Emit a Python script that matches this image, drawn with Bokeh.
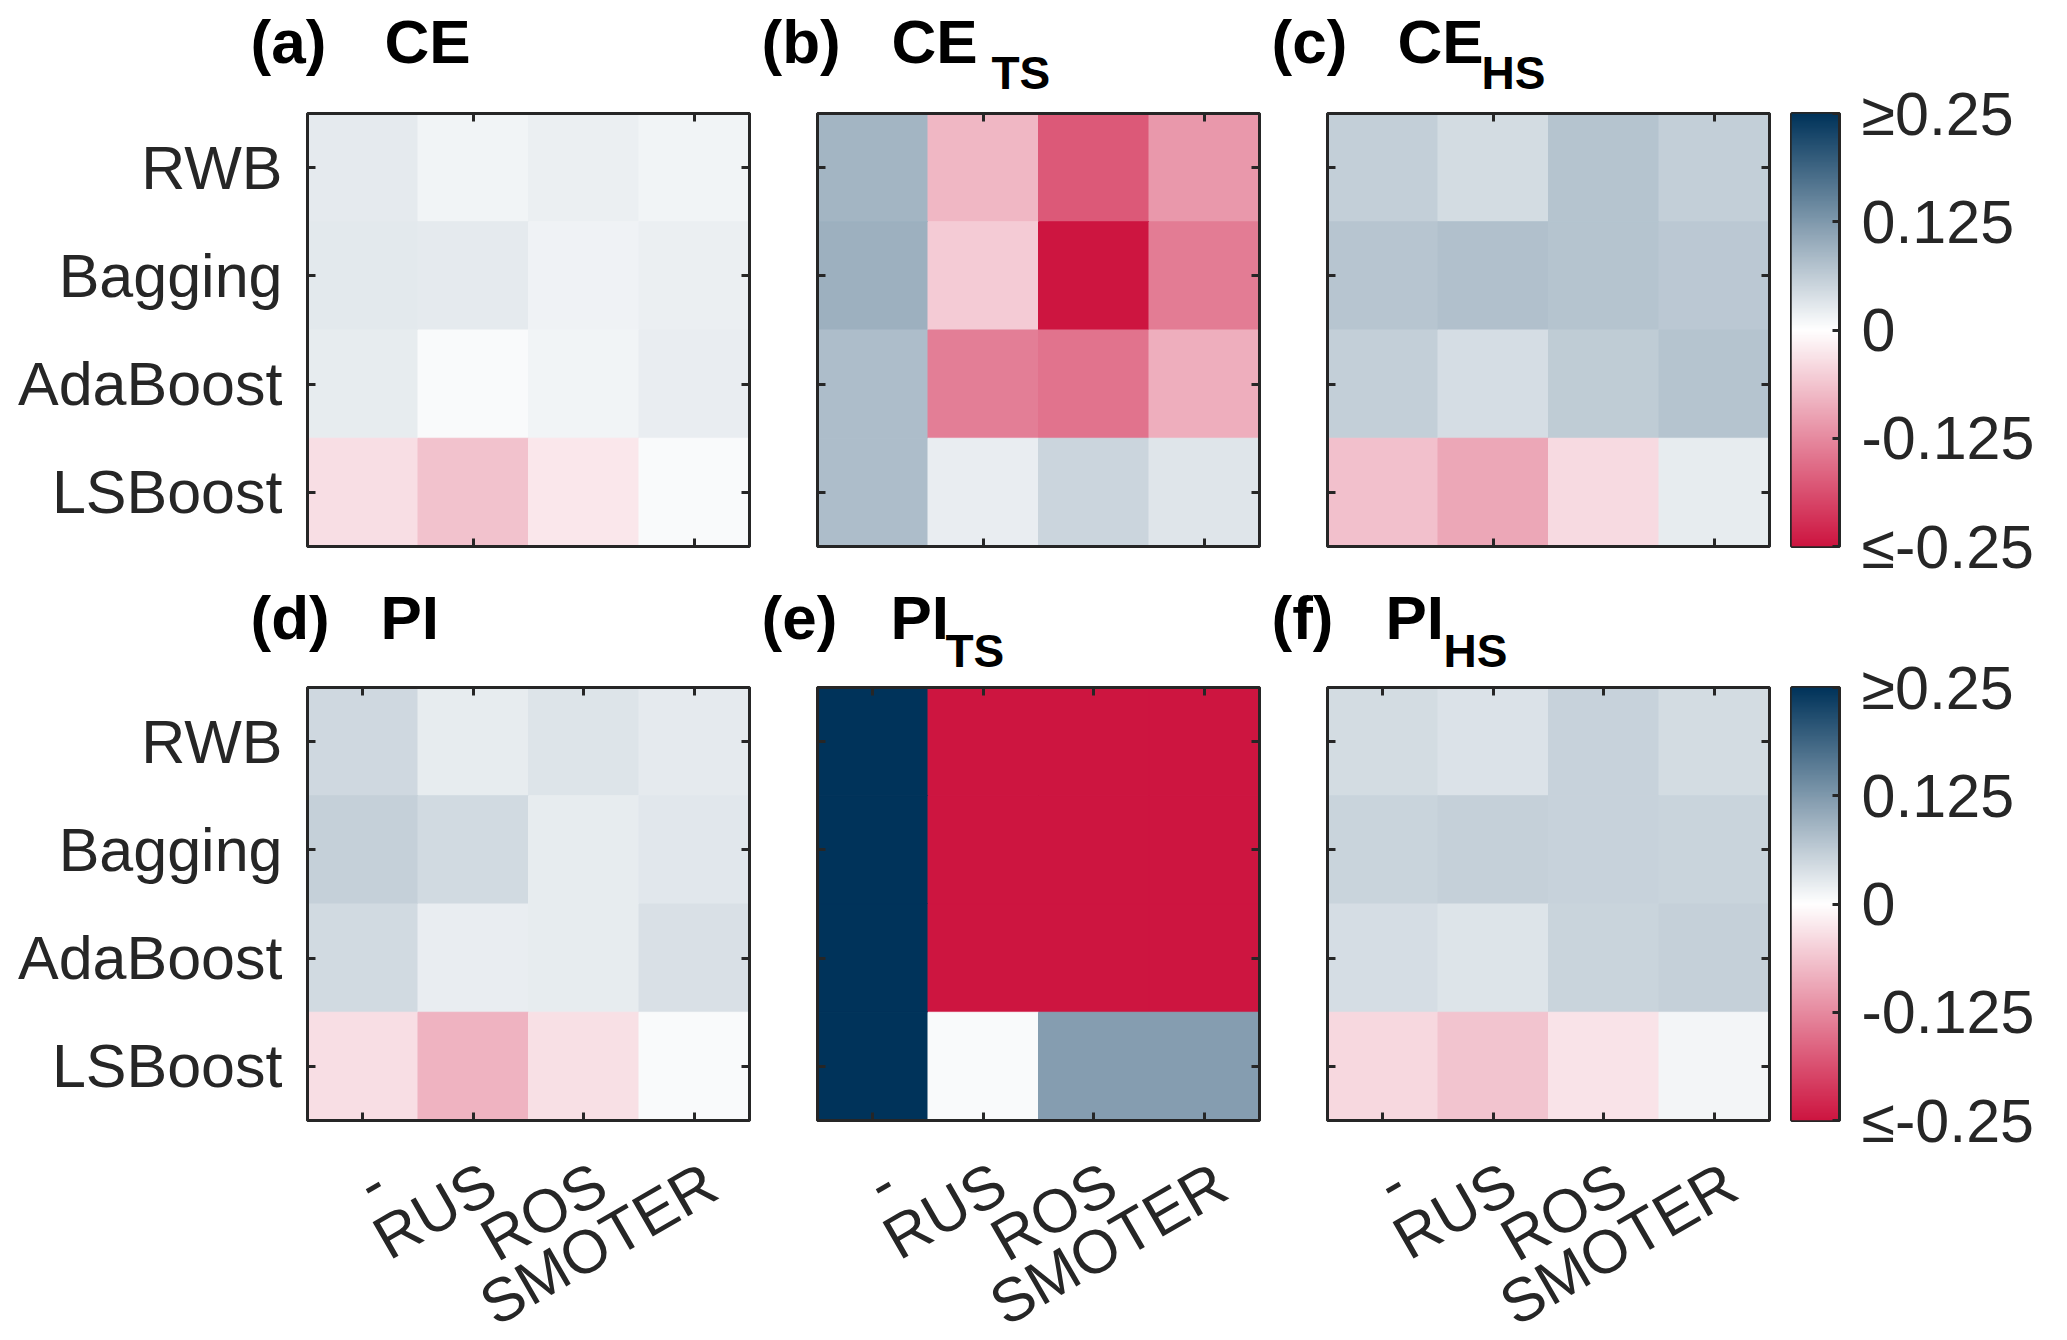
import numpy as np
from bokeh.plotting import figure
from bokeh.models import (LinearAxis, FixedTicker, CustomJSTickFormatter, Range1d,
                          LinearColorMapper, ColumnDataSource)
from bokeh.core.properties import value
from bokeh.layouts import row, column
from bokeh.embed import file_html
from bokeh.resources import INLINE

# ---------------- data ----------------
methods = ["-", "RUS", "ROS", "SMOTER"]
models = ["RWB", "Bagging", "AdaBoost", "LSBoost"]
cbar_ticks = [-0.25, -0.125, 0.0, 0.125, 0.25]
cbar_labels = ["≤-0.25", "-0.125", "0", "0.125", "≥0.25"]

panel_tags = ["(a)", "(b)", "(c)", "(d)", "(e)", "(f)"]
panel_names = ["CE", "CE", "CE", "PI", "PI", "PI"]
panel_subs = ["", "TS", "HS", "", "TS", "HS"]

# rows: RWB, Bagging, AdaBoost, LSBoost ; cols: -, RUS, ROS, SMOTER
ce = [[0.026, 0.013, 0.020, 0.014],
      [0.027, 0.026, 0.016, 0.020],
      [0.023, 0.006, 0.014, 0.022],
      [-0.036, -0.065, -0.025, 0.005]]
ce_ts = [[0.091, -0.076, -0.176, -0.110],
         [0.096, -0.055, -0.270, -0.140],
         [0.080, -0.137, -0.150, -0.087],
         [0.080, 0.022, 0.050, 0.031]]
ce_hs = [[0.058, 0.043, 0.073, 0.058],
         [0.070, 0.076, 0.072, 0.067],
         [0.058, 0.042, 0.062, 0.073],
         [-0.066, -0.094, -0.040, 0.024]]
pi = [[0.047, 0.023, 0.033, 0.025],
      [0.057, 0.045, 0.024, 0.029],
      [0.046, 0.022, 0.024, 0.038],
      [-0.036, -0.080, -0.033, 0.005]]
pi_ts = [[0.400, -0.400, -0.400, -0.400],
         [0.400, -0.400, -0.400, -0.400],
         [0.400, -0.400, -0.400, -0.400],
         [0.400, 0.006, 0.120, 0.120]]
pi_hs = [[0.043, 0.036, 0.054, 0.043],
         [0.052, 0.057, 0.054, 0.053],
         [0.042, 0.034, 0.052, 0.056],
         [-0.042, -0.063, -0.029, 0.012]]
panel_values = [ce, ce_ts, ce_hs, pi, pi_ts, pi_hs]

# ---------------- style ----------------
FONT = "Liberation Sans"
INK = "#262626"
LBL = "61px"
TITLE_SIZE = "62px"
SUB_SIZE = "46px"
FW, FH = 442, 433

lo_rgb = (205, 21, 64)
hi_rgb = (0, 51, 90)
white = (255, 255, 255)


def _mix(a, b, t):
    return "#%02x%02x%02x" % tuple(int(round(a[i] + (b[i] - a[i]) * t)) for i in range(3))


half = 127
palette = ([_mix(lo_rgb, white, i / half) for i in range(half)] + ["#ffffff"] +
           [_mix(white, hi_rgb, (i + 1) / half) for i in range(half)])
mapper = LinearColorMapper(palette=palette, low=-0.25, high=0.25,
                           low_color=palette[0], high_color=palette[-1])

tag_dx = [-57, -56, -56, -57, -56, -56]
name_dx = [77, 74, 70, 73, 73, 58]
sub_dx = [None, 174, 154, None, 128, 116]
LABEL_SHIFT = 0.155


def make_axis(ticks, labels=None, show_line=True, show_ticks=True, standoff=0, orient=None):
    ax = LinearAxis(ticker=FixedTicker(ticks=ticks, minor_ticks=[]))
    ax.axis_line_color = INK if show_line else None
    ax.axis_line_width = 3
    ax.major_tick_in = 8 if show_ticks else 0
    ax.major_tick_out = 0
    ax.major_tick_line_color = INK if show_ticks else None
    ax.major_tick_line_width = 3
    ax.minor_tick_line_color = None
    if labels is None:
        ax.formatter = CustomJSTickFormatter(code="return '';")
        ax.major_label_text_font_size = "1px"
        ax.major_label_standoff = 0
    else:
        ax.formatter = CustomJSTickFormatter(
            args=dict(labels=labels),
            code="return labels[Math.floor(tick + 0.001) - 1];")
        ax.major_label_text_font = FONT
        ax.major_label_text_font_size = LBL
        ax.major_label_text_color = INK
        ax.major_label_standoff = standoff
        if orient is not None:
            ax.major_label_orientation = orient
    return ax


def add_title_text(p, dx, dy, txt, size):
    # anchored at the frame's top-left corner, offset in pixels
    p.text(x=[0.5], y=[0.5], text=[txt], x_offset=dx, y_offset=-dy,
           text_font=value(FONT), text_font_style="bold", text_font_size=size,
           text_color="black", text_align="left", text_baseline="alphabetic",
           level="overlay")


def make_panel(k, top_row, first_col, bl, br, bt, bb):
    vals = panel_values[k]
    p = figure(frame_width=FW, frame_height=FH,
               x_range=Range1d(0.5, 4.5), y_range=Range1d(4.5, 0.5),
               x_axis_location=None, y_axis_location=None,
               toolbar_location=None, output_backend="svg",
               min_border_left=bl, min_border_right=br,
               min_border_top=bt, min_border_bottom=bb,
               outline_line_color=INK, outline_line_width=3,
               background_fill_color="white", border_fill_color="white")
    p.grid.visible = False
    xs, ys, vs = [], [], []
    for r in range(len(models)):
        for c in range(len(methods)):
            xs.append(c + 1)
            ys.append(r + 1)
            vs.append(vals[r][c])
    src = ColumnDataSource(dict(x=xs, y=ys, v=vs))
    cmap = {"field": "v", "transform": mapper}
    p.rect(x="x", y="y", width=1, height=1, source=src,
           fill_color=cmap, line_color=cmap, line_width=1)

    yt = [1, 2, 3, 4]
    p.add_layout(make_axis(yt, models if first_col else None, standoff=25), "left")
    p.add_layout(make_axis(yt), "right")
    if top_row:
        xt = [2, 4]
        p.add_layout(make_axis(xt), "above")
        p.add_layout(make_axis(xt), "below")
    else:
        xt = [1, 2, 3, 4]
        p.add_layout(make_axis(xt), "above")
        p.add_layout(make_axis(xt), "below")
        lab = make_axis([t + LABEL_SHIFT for t in xt], methods, show_line=False,
                        show_ticks=False, standoff=58, orient=np.pi / 6)
        p.add_layout(lab, "below")

    main_dy = 72 if top_row else 70
    sub_dy = 41 if top_row else 37
    add_title_text(p, tag_dx[k], main_dy, panel_tags[k], TITLE_SIZE)
    add_title_text(p, name_dx[k], main_dy, panel_names[k], TITLE_SIZE)
    if panel_subs[k]:
        add_title_text(p, sub_dx[k], sub_dy, panel_subs[k], SUB_SIZE)
    return p


def make_cbar(bt, bb):
    p = figure(frame_width=48, frame_height=FH,
               x_range=Range1d(0, 1), y_range=Range1d(-0.25, 0.25),
               x_axis_location=None, y_axis_location=None,
               toolbar_location=None, output_backend="svg",
               min_border_left=16, min_border_right=220,
               min_border_top=bt, min_border_bottom=bb,
               outline_line_color=INK, outline_line_width=3,
               background_fill_color="white", border_fill_color="white")
    p.grid.visible = False
    grad = np.linspace(mapper.low, mapper.high, len(palette)).reshape(-1, 1)
    p.image(image=[grad], x=0, y=-0.25, dw=1, dh=0.5, color_mapper=mapper)
    ax = LinearAxis(ticker=FixedTicker(ticks=cbar_ticks, minor_ticks=[]))
    ax.formatter = CustomJSTickFormatter(
        args=dict(vals=cbar_ticks, labels=cbar_labels),
        code="for (let i = 0; i < vals.length; i++) { if (Math.abs(vals[i] - tick) < 1e-9) return labels[i]; } return '';")
    ax.axis_line_color = INK
    ax.axis_line_width = 3
    ax.major_tick_in = 7
    ax.major_tick_out = 0
    ax.major_tick_line_color = INK
    ax.major_tick_line_width = 3
    ax.minor_tick_line_color = None
    ax.major_label_text_font = FONT
    ax.major_label_text_font_size = LBL
    ax.major_label_text_color = INK
    ax.major_label_standoff = 22
    p.add_layout(ax, "right")
    return p


pa = make_panel(0, True, True, 307, 6, 113, 35)
pb = make_panel(1, True, False, 62, 6, 113, 35)
pc = make_panel(2, True, False, 62, 6, 113, 35)
cb1 = make_cbar(113, 35)
pd = make_panel(3, False, True, 307, 6, 106, 212)
pe = make_panel(4, False, False, 62, 6, 106, 212)
pf = make_panel(5, False, False, 62, 6, 106, 212)
cb2 = make_cbar(106, 212)

layout = column(row(pa, pb, pc, cb1), row(pd, pe, pf, cb2))
open("out.html", "w").write(file_html(layout, INLINE))
